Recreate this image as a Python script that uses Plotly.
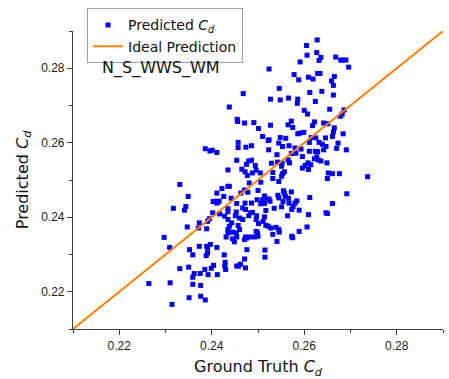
import plotly.graph_objects as go

# Ground truth vs. predicted drag coefficient for the N_S_WWS_WM case
truth_cd = [
    0.2628, 0.2605, 0.2627, 0.2606, 0.2636, 0.2632, 0.2668, 0.2679, 0.2690, 0.2683,
    0.2696, 0.2591, 0.2524, 0.2578, 0.2588, 0.2609, 0.2619, 0.2629, 0.2634, 0.2665,
    0.2659, 0.2663, 0.2612, 0.2638, 0.2663, 0.2624, 0.2586, 0.2585, 0.2566, 0.2546,
    0.2548, 0.2527, 0.2468, 0.2438, 0.2600, 0.2607, 0.2655, 0.2686, 0.2682, 0.2678,
    0.2572, 0.2565, 0.2575, 0.2618, 0.2622, 0.2642, 0.2651, 0.2665, 0.2663, 0.2661,
    0.2684, 0.2455, 0.2456, 0.2471, 0.2491, 0.2501, 0.2527, 0.2510, 0.2524, 0.2586,
    0.2591, 0.2599, 0.2615, 0.2625, 0.2632, 0.2646, 0.2639, 0.2647, 0.2673, 0.2670,
    0.2691, 0.2611, 0.2611, 0.2593, 0.2582, 0.2596, 0.2580, 0.2567, 0.2548, 0.2545,
    0.2560, 0.2553, 0.2541, 0.2523, 0.2522, 0.2474, 0.2486, 0.2457, 0.2457, 0.2386,
    0.2396, 0.2401, 0.2411, 0.2454, 0.2465, 0.2475, 0.2480, 0.2486, 0.2494, 0.2496,
    0.2477, 0.2481, 0.2472, 0.2488, 0.2505, 0.2506, 0.2529, 0.2532, 0.2532, 0.2551,
    0.2551, 0.2557, 0.2553, 0.2542, 0.2545, 0.2552, 0.2565, 0.2568, 0.2572, 0.2602,
    0.2608, 0.2609, 0.2596, 0.2622, 0.2627, 0.2630, 0.2636, 0.2642, 0.2649, 0.2652,
    0.2661, 0.2676, 0.2650, 0.2629, 0.2624, 0.2614, 0.2737, 0.2692, 0.2435, 0.2438,
    0.2442, 0.2471, 0.2478, 0.2463, 0.2500, 0.2514, 0.2515, 0.2524, 0.2510, 0.2514,
    0.2526, 0.2543, 0.2545, 0.2555, 0.2557, 0.2559, 0.2554, 0.2566, 0.2567, 0.2572,
    0.2576, 0.2573, 0.2580, 0.2584, 0.2589, 0.2609, 0.2612, 0.2564, 0.2551, 0.2535,
    0.2517, 0.2506, 0.2498, 0.2486, 0.2484, 0.2488, 0.2467, 0.2473, 0.2472, 0.2454,
    0.2453, 0.2451, 0.2460, 0.2457, 0.2467, 0.2480, 0.2496, 0.2497, 0.2514, 0.2511,
    0.2501, 0.2517, 0.2528, 0.2522, 0.2539, 0.2545, 0.2546, 0.2532, 0.2541, 0.2573,
    0.2575, 0.2589, 0.2606, 0.2647, 0.2650, 0.2661, 0.2515, 0.2515, 0.2499, 0.2496,
    0.2500, 0.2493, 0.2483, 0.2473, 0.2475, 0.2471, 0.2460, 0.2445, 0.2443, 0.2435,
    0.2428, 0.2435, 0.2435, 0.2438, 0.2435, 0.2435, 0.2431, 0.2445, 0.2449, 0.2453,
    0.2454, 0.2476, 0.2471, 0.2473, 0.2462, 0.2458, 0.2454, 0.2428, 0.2429, 0.2427,
    0.2430, 0.2412, 0.2404, 0.2399, 0.2392, 0.2385, 0.2422, 0.2435, 0.2426, 0.2411,
    0.2413, 0.2416, 0.2409, 0.2403, 0.2411, 0.2417, 0.2402, 0.2395, 0.2391, 0.2389,
    0.2389, 0.2397, 0.2391, 0.2411, 0.2391, 0.2388, 0.2373, 0.2352, 0.2359, 0.2373,
    0.2371, 0.2347, 0.2344, 0.2341, 0.2349, 0.2331, 0.2317, 0.2309, 0.2297, 0.2331,
    0.2350, 0.2362, 0.2359, 0.2375, 0.2359, 0.2376, 0.2310, 0.2264, 0.2351, 0.2376,
    0.2386, 0.2314,
]

predicted_cd = [
    0.2876, 0.2861, 0.2842, 0.2835, 0.2829, 0.2821, 0.2830, 0.2822, 0.2822, 0.2822,
    0.2803, 0.2817, 0.2798, 0.2783, 0.2769, 0.2776, 0.2771, 0.2786, 0.2786, 0.2778,
    0.2766, 0.2754, 0.2735, 0.2738, 0.2728, 0.2711, 0.2717, 0.2706, 0.2720, 0.2746,
    0.2715, 0.2717, 0.2732, 0.2696, 0.2687, 0.2677, 0.2690, 0.2688, 0.2677, 0.2671,
    0.2658, 0.2648, 0.2641, 0.2646, 0.2656, 0.2653, 0.2651, 0.2640, 0.2629, 0.2617,
    0.2624, 0.2663, 0.2657, 0.2653, 0.2654, 0.2638, 0.2647, 0.2617, 0.2608, 0.2624,
    0.2626, 0.2628, 0.2614, 0.2613, 0.2601, 0.2613, 0.2596, 0.2590, 0.2599, 0.2585,
    0.2581, 0.2601, 0.2577, 0.2583, 0.2572, 0.2563, 0.2586, 0.2592, 0.2614, 0.2599,
    0.2612, 0.2590, 0.2568, 0.2581, 0.2606, 0.2588, 0.2592, 0.2601, 0.2587, 0.2584,
    0.2578, 0.2580, 0.2574, 0.2553, 0.2529, 0.2542, 0.2551, 0.2553, 0.2539, 0.2526,
    0.2512, 0.2492, 0.2522, 0.2519, 0.2519, 0.2494, 0.2545, 0.2520, 0.2504, 0.2537,
    0.2510, 0.2522, 0.2517, 0.2548, 0.2496, 0.2546, 0.2554, 0.2546, 0.2571, 0.2539,
    0.2546, 0.2528, 0.2532, 0.2557, 0.2562, 0.2554, 0.2551, 0.2581, 0.2546, 0.2519,
    0.2517, 0.2517, 0.2504, 0.2576, 0.2577, 0.2541, 0.2509, 0.2463, 0.2527, 0.2483,
    0.2451, 0.2473, 0.2467, 0.2465, 0.2472, 0.2457, 0.2451, 0.2449, 0.2447, 0.2437,
    0.2443, 0.2459, 0.2452, 0.2471, 0.2465, 0.2456, 0.2442, 0.2451, 0.2438, 0.2468,
    0.2429, 0.2421, 0.2438, 0.2444, 0.2419, 0.2407, 0.2453, 0.2404, 0.2428, 0.2424,
    0.2418, 0.2436, 0.2447, 0.2438, 0.2412, 0.2413, 0.2425, 0.2421, 0.2438, 0.2437,
    0.2414, 0.2404, 0.2398, 0.2378, 0.2394, 0.2404, 0.2394, 0.2404, 0.2401, 0.2389,
    0.2383, 0.2378, 0.2371, 0.2376, 0.2373, 0.2367, 0.2360, 0.2354, 0.2335, 0.2349,
    0.2345, 0.2362, 0.2374, 0.2412, 0.2410, 0.2437, 0.2312, 0.2293, 0.2358, 0.2362,
    0.2349, 0.2347, 0.2347, 0.2347, 0.2344, 0.2340, 0.2367, 0.2360, 0.2385, 0.2394,
    0.2403, 0.2415, 0.2423, 0.2376, 0.2367, 0.2358, 0.2347, 0.2342, 0.2334, 0.2358,
    0.2347, 0.2313, 0.2288, 0.2264, 0.2274, 0.2269, 0.2269, 0.2269, 0.2279, 0.2299,
    0.2260, 0.2246, 0.2271, 0.2263, 0.2246, 0.2260, 0.2477, 0.2483, 0.2456, 0.2438,
    0.2440, 0.2443, 0.2443, 0.2442, 0.2465, 0.2409, 0.2412, 0.2396, 0.2389, 0.2369,
    0.2322, 0.2327, 0.2317, 0.2319, 0.2304, 0.2297, 0.2322, 0.2313, 0.2299, 0.2385,
    0.2371, 0.2374, 0.2429, 0.2419, 0.2456, 0.2488, 0.2424, 0.2319, 0.2346, 0.2262,
    0.2266, 0.2249, 0.2239, 0.2249, 0.2220, 0.2217, 0.2224, 0.2222, 0.2184, 0.2188,
    0.2178, 0.2166,
]

# y = x reference line spanning the axis range
ideal_x = [0.21, 0.29]
ideal_y = [0.21, 0.29]

tick_vals = [0.22, 0.24, 0.26, 0.28]
tick_text = ["0.22", "0.24", "0.26", "0.28"]

text_font = "DejaVu Sans, Verdana, sans-serif"
tick_font = "Liberation Sans, Arial, sans-serif"
axis_color = "#404040"

fig = go.Figure()

fig.add_trace(go.Scatter(
    x=truth_cd, y=predicted_cd,
    mode="markers",
    name="Predicted <i>C<sub>d</sub></i>",
    marker=dict(symbol="square", size=5, color="#0000ff", line=dict(width=0)),
))

fig.add_trace(go.Scatter(
    x=ideal_x, y=ideal_y,
    mode="lines",
    name="Ideal Prediction",
    line=dict(color="#ff8000", width=2),
))

axis_common = dict(
    range=[0.21, 0.29],
    tickvals=tick_vals,
    ticktext=tick_text,
    ticks="outside",
    ticklen=5,
    tickwidth=1,
    tickcolor=axis_color,
    showline=True,
    linecolor=axis_color,
    linewidth=1.2,
    showgrid=False,
    zeroline=False,
    tickfont=dict(family=tick_font, size=12, color="#222222"),
    minor=dict(ticks="outside", ticklen=3, tickcolor=axis_color,
               tick0=0.21, dtick=0.01, showgrid=False),
)

fig.update_xaxes(
    **axis_common,
    title=dict(text="Ground Truth <i>C<sub>d</sub></i>",
               font=dict(family=text_font, size=16, color="#111111"),
               standoff=9),
)
fig.update_yaxes(
    **axis_common,
    title=dict(text="Predicted <i>C<sub>d</sub></i>",
               font=dict(family=text_font, size=16, color="#111111"),
               standoff=8),
)

fig.add_annotation(
    text="N_S_WWS_WM",
    x=0.2159, y=0.28, xref="x", yref="y",
    xanchor="left", yanchor="middle",
    showarrow=False,
    font=dict(family=text_font, size=16, color="#111111"),
)

fig.update_layout(
    width=449, height=379,
    margin=dict(l=73, r=6, t=31, b=50),
    paper_bgcolor="white",
    plot_bgcolor="white",
    showlegend=True,
    legend=dict(
        x=0.038, y=1.076, xanchor="left", yanchor="top",
        bgcolor="white",
        bordercolor="#a0a0a0", borderwidth=1,
        font=dict(family=text_font, size=14, color="#111111"),
        tracegroupgap=0,
    ),
)

fig.write_html("out.html")
